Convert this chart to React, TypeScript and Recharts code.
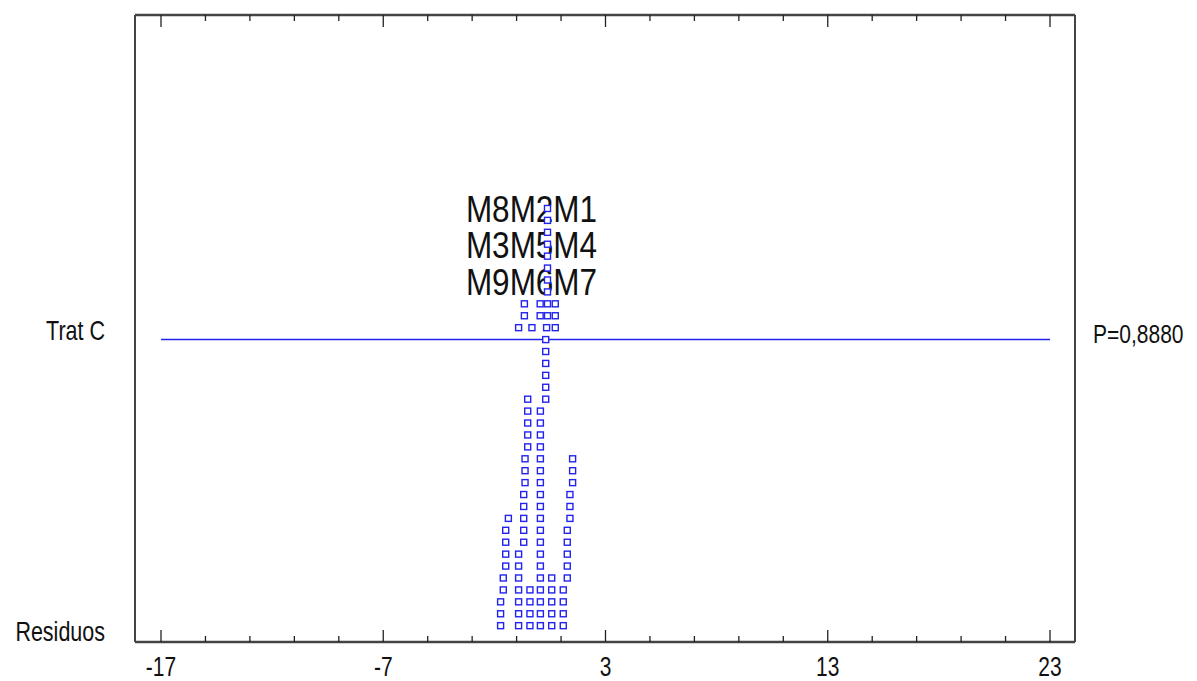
import React from "react";
import { ScatterChart, Scatter, XAxis, YAxis, ReferenceLine } from "recharts";

// ---------- data ----------
const xTicks = [-17, -15, -13, -11, -9, -7, -5, -3, -1, 1, 3, 5, 7, 9, 11, 13, 15, 17, 19, 21, 23];
const majorTicks = [-17, -7, 3, 13, 23];
const rowLabels = ["Residuos", "Trat C"];
const rowLevels = [0, 24];
const pValueLabel = "P=0,8880";
const treatmentLevel = 24;
const meanLabelRows = ["M8M2M1", "M3M5M4", "M9M6M7"];
const meanLabelCenter = -0.33;

// residuals: [value, stack level]
const residuals: [number, number][] = [
  [-1.72, 0], [-1.72, 1], [-1.72, 2], [-1.6, 3], [-1.6, 4],
  [-1.49, 5], [-1.49, 6], [-1.49, 7], [-1.49, 8], [-1.37, 9],
  [-0.91, 0], [-0.91, 1], [-0.91, 2], [-0.91, 3], [-0.91, 4], [-0.91, 5], [-0.91, 6],
  [-0.68, 7], [-0.68, 8], [-0.68, 9], [-0.68, 10], [-0.68, 11],
  [-0.62, 12], [-0.62, 13], [-0.62, 14],
  [-0.5, 15], [-0.5, 16], [-0.5, 17], [-0.5, 18], [-0.5, 19],
  [-0.4, 0], [-0.4, 1], [-0.4, 2], [-0.4, 3],
  [0.07, 0], [0.07, 1], [0.07, 2], [0.07, 3], [0.07, 4], [0.07, 5], [0.07, 6], [0.07, 7],
  [0.07, 8], [0.07, 9], [0.07, 10], [0.07, 11], [0.07, 12], [0.07, 13], [0.07, 14],
  [0.07, 15], [0.07, 16], [0.07, 17], [0.07, 18],
  [0.31, 19], [0.31, 20], [0.31, 21], [0.31, 22], [0.31, 23], [0.31, 24],
  [0.35, 25],
  [0.39, 26], [0.39, 27], [0.39, 28], [0.39, 29], [0.39, 30], [0.39, 31], [0.39, 32],
  [0.39, 33], [0.39, 34], [0.39, 35],
  [0.58, 0], [0.58, 1], [0.58, 2], [0.58, 3], [0.58, 4],
  [1.1, 0], [1.1, 1], [1.1, 2], [1.1, 3],
  [1.28, 4], [1.28, 5], [1.28, 6], [1.28, 7], [1.28, 8],
  [1.4, 9], [1.4, 10], [1.4, 11],
  [1.52, 12], [1.52, 13], [1.52, 14],
];

// scaled treatment means: [value, stack level]
const means: [number, number][] = [
  [-0.91, 25], [-0.65, 26], [-0.65, 27], [-0.31, 25], [0.06, 26], [0.06, 27],
  [0.74, 25], [0.74, 26], [0.74, 27],
];

// ---------- layout constants ----------
const X_DOMAIN: [number, number] = [-18.17, 24.125];
const Y_DOMAIN: [number, number] = [-1.37, 51.23];
const LABEL_BASE_LEVELS = [33.9, 30.85, 27.75];
const BLUE = "#2323ee";
const FONT = "'Liberation Sans', Arial, sans-serif";
const W = 1197;
const H = 681;
const PLOT_LEFT = 135;
const PLOT_RIGHT = 1075;
const PLOT_TOP = 15;
const PLOT_BOTTOM = 642;

const residualData = residuals.map(([x, y]) => ({ x, y }));
const meanData = means.map(([x, y]) => ({ x, y }));
const labelData = meanLabelRows.map((t, i) => ({ x: meanLabelCenter, y: LABEL_BASE_LEVELS[i], t }));

const SquareDot = (props: any) => {
  const { cx, cy } = props;
  if (cx == null || cy == null) return null;
  return <rect x={cx - 3} y={cy - 3} width={6} height={6} fill="#fff" stroke={BLUE} strokeWidth={1.4} />;
};

const LabelShape = (props: any) => {
  const { cx, cy, payload } = props;
  if (cx == null || cy == null) return null;
  return (
    <text transform={`translate(${cx},${cy}) scale(1,1.2)`} textAnchor="middle" fontSize={31.5} fontFamily={FONT} fill="#111">
      {payload.t}
    </text>
  );
};

const BottomTick = (props: any) => {
  const { x, payload } = props;
  const v = payload.value;
  const major = majorTicks.includes(v);
  return (
    <g>
      <line x1={x} x2={x} y1={PLOT_BOTTOM} y2={PLOT_BOTTOM - (major ? 12 : 6)} stroke="#222" strokeWidth={1.3} />
      {major && (
        <text transform={`translate(${x},${PLOT_BOTTOM + 34}) scale(1,1.32)`} textAnchor="middle" fontSize={21} fontFamily={FONT} fill="#111">
          {String(v)}
        </text>
      )}
    </g>
  );
};

const TopTick = (props: any) => {
  const { x, payload } = props;
  const major = majorTicks.includes(payload.value);
  return <line x1={x} x2={x} y1={PLOT_TOP} y2={PLOT_TOP + (major ? 12 : 6)} stroke="#222" strokeWidth={1.3} />;
};

const LeftTick = (props: any) => {
  const { y, payload } = props;
  const idx = rowLevels.indexOf(payload.value);
  if (idx < 0) return null;
  const dy = idx === 0 ? 15 : 0;
  return (
    <text transform={`translate(${PLOT_LEFT - 30},${y + dy}) scale(1,1.25)`} textAnchor="end" fontSize={21.5} fontFamily={FONT} fill="#111">
      {rowLabels[idx]}
    </text>
  );
};

const RightTick = (props: any) => {
  const { y, payload } = props;
  if (payload.value !== treatmentLevel) return null;
  return (
    <text transform={`translate(${PLOT_RIGHT + 18},${y + 3}) scale(1,1.25)`} textAnchor="start" fontSize={21} fontFamily={FONT} fill="#111">
      {pValueLabel}
    </text>
  );
};

const axisLineStyle = { stroke: "#444", strokeWidth: 2 };

export default function App() {
  return (
    <div style={{ position: "fixed", left: 0, top: 0, width: W, height: H, fontFamily: FONT, background: "#fff" }}>
      <ScatterChart width={W} height={H} margin={{ top: 0, right: 0, bottom: 0, left: 0 }}>
        <XAxis
          xAxisId="b"
          dataKey="x"
          type="number"
          orientation="bottom"
          domain={X_DOMAIN}
          allowDataOverflow
          ticks={xTicks}
          interval={0}
          height={H - PLOT_BOTTOM}
          tickSize={0}
          tickMargin={0}
          tickLine={false}
          axisLine={{ stroke: "#444", strokeWidth: 2.5 }}
          tick={<BottomTick />}
        />
        <XAxis
          xAxisId="t"
          dataKey="x"
          type="number"
          orientation="top"
          domain={X_DOMAIN}
          allowDataOverflow
          ticks={xTicks}
          interval={0}
          height={PLOT_TOP}
          tickSize={0}
          tickMargin={0}
          tickLine={false}
          axisLine={{ stroke: "#444", strokeWidth: 2.5 }}
          tick={<TopTick />}
        />
        <YAxis
          yAxisId="l"
          dataKey="y"
          type="number"
          orientation="left"
          domain={Y_DOMAIN}
          allowDataOverflow
          ticks={rowLevels}
          interval={0}
          width={PLOT_LEFT}
          tickSize={0}
          tickMargin={0}
          tickLine={false}
          axisLine={axisLineStyle}
          tick={<LeftTick />}
        />
        <YAxis
          yAxisId="r"
          dataKey="y"
          type="number"
          orientation="right"
          domain={Y_DOMAIN}
          allowDataOverflow
          ticks={[treatmentLevel]}
          interval={0}
          width={W - PLOT_RIGHT}
          tickSize={0}
          tickMargin={0}
          tickLine={false}
          axisLine={axisLineStyle}
          tick={<RightTick />}
        />
        <ReferenceLine
          xAxisId="b"
          yAxisId="l"
          segment={[{ x: xTicks[0], y: treatmentLevel }, { x: xTicks[xTicks.length - 1], y: treatmentLevel }]}
          stroke={BLUE}
          strokeWidth={1.5}
          ifOverflow="visible"
        />
        <Scatter xAxisId="b" yAxisId="l" data={labelData} shape={<LabelShape />} isAnimationActive={false} />
        <Scatter xAxisId="b" yAxisId="l" data={residualData} shape={<SquareDot />} isAnimationActive={false} />
        <Scatter xAxisId="b" yAxisId="l" data={meanData} shape={<SquareDot />} isAnimationActive={false} />
      </ScatterChart>
    </div>
  );
}
